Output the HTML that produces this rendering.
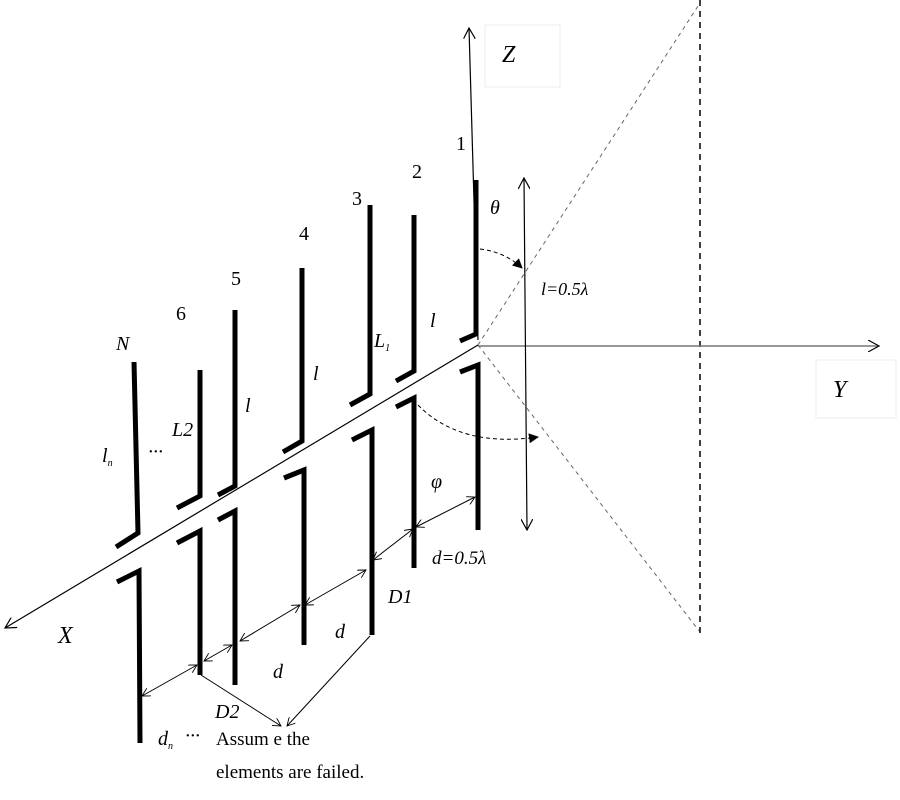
<!DOCTYPE html>
<html><head><meta charset="utf-8"><style>
html,body{margin:0;padding:0;background:#fff;}
svg{display:block;}
text{font-family:"Liberation Serif",serif;fill:#000;}
.it{font-style:italic;}
</style></head><body>
<svg width="900" height="800" viewBox="0 0 900 800" xmlns="http://www.w3.org/2000/svg">
<defs>
<marker id="a" viewBox="0 0 12 12" refX="11" refY="6" markerWidth="12" markerHeight="12" orient="auto-start-reverse" markerUnits="userSpaceOnUse">
<path d="M0,0 L11,6 L0,12" fill="none" stroke="#000" stroke-width="1.2"/></marker>
<marker id="s" viewBox="0 0 10 10" refX="9" refY="5" markerWidth="9" markerHeight="9" orient="auto-start-reverse" markerUnits="userSpaceOnUse">
<path d="M0,0 L9,5 L0,10" fill="none" stroke="#000" stroke-width="1"/></marker>
<marker id="f" viewBox="0 0 10 10" refX="9" refY="5" markerWidth="10" markerHeight="10" orient="auto" markerUnits="userSpaceOnUse">
<path d="M0,0 L10,5 L0,10 Z" fill="#000"/></marker>
</defs>
<rect x="485" y="25" width="75" height="62" fill="none" stroke="#eee"/>
<rect x="816" y="360" width="80" height="58" fill="none" stroke="#eee"/>
<g stroke="#666" stroke-width="1" stroke-dasharray="4,4" fill="none">
<line x1="478" y1="345" x2="700" y2="3"/>
<line x1="478" y1="345" x2="700" y2="632"/>
</g>
<line x1="700" y1="0" x2="700" y2="634" stroke="#000" stroke-width="1.5" stroke-dasharray="6,5"/>
<line x1="478" y1="340" x2="469" y2="28" stroke="#000" stroke-width="1.2" marker-end="url(#a)"/>
<line x1="478" y1="346" x2="879" y2="346" stroke="#777" stroke-width="1.5" marker-end="url(#a)"/>
<line x1="478" y1="345" x2="5" y2="628" stroke="#000" stroke-width="1.2" marker-end="url(#a)"/>
<line x1="527" y1="530" x2="524" y2="178" stroke="#000" stroke-width="1.2" marker-end="url(#a)" marker-start="url(#a)"/>
<path d="M480,249 Q505,252 522,268" fill="none" stroke="#000" stroke-width="1" stroke-dasharray="4,3" marker-end="url(#f)"/>
<path d="M418,405 Q460,448 538,437" fill="none" stroke="#000" stroke-width="1" stroke-dasharray="4,3" marker-end="url(#f)"/>
<g stroke="#000" stroke-width="5" fill="none" stroke-linecap="butt">
<polyline points="460,341 476,334 476,180"/>
<polyline points="460,372 478,365 478,530"/>
<polyline points="396,381 414,371 414,215"/>
<polyline points="396,407 414,398 414,568"/>
<polyline points="350,405 370,394 370,205"/>
<polyline points="352,440 372,430 372,635"/>
<polyline points="283,452 302,441 302,268"/>
<polyline points="284,478 304,470 304,645"/>
<polyline points="218,495 235,486 235,310"/>
<polyline points="218,520 235,511 235,685"/>
<polyline points="177,508 200,496 200,370"/>
<polyline points="177,543 200,531 200,675"/>
<polyline points="116,547 138,533 134,362"/>
<polyline points="117,582 139,571 140,743"/>
</g>
<g stroke="#000" stroke-width="1" fill="none">
<line x1="416" y1="527" x2="475" y2="497" marker-start="url(#s)" marker-end="url(#s)"/>
<line x1="373" y1="560" x2="413" y2="529" marker-start="url(#s)" marker-end="url(#s)"/>
<line x1="305" y1="605" x2="366" y2="570" marker-start="url(#s)" marker-end="url(#s)"/>
<line x1="240" y1="641" x2="300" y2="605" marker-start="url(#s)" marker-end="url(#s)"/>
<line x1="204" y1="661" x2="232" y2="645" marker-start="url(#s)" marker-end="url(#s)"/>
<line x1="142" y1="696" x2="197" y2="665" marker-start="url(#s)" marker-end="url(#s)"/>
<line x1="201" y1="675" x2="281" y2="726" marker-end="url(#s)"/>
<line x1="370" y1="636" x2="287" y2="726" marker-end="url(#s)"/>
</g>
<g font-size="20">
<text x="456" y="150">1</text>
<text x="412" y="178">2</text>
<text x="352" y="205">3</text>
<text x="299" y="240">4</text>
<text x="231" y="285">5</text>
<text x="176" y="320">6</text>
</g>
<g class="it" font-size="20">
<text x="116" y="350" class="it">N</text>
<text x="502" y="62" class="it" font-size="24">Z</text>
<text x="833" y="397" class="it" font-size="24">Y</text>
<text x="58" y="643" class="it" font-size="24">X</text>
<text x="490" y="214" class="it">θ</text>
<text x="541" y="295" class="it" font-size="18">l=0.5λ</text>
<text x="374" y="347" class="it">L<tspan font-size="10" dy="4">1</tspan></text>
<text x="430" y="327" class="it">l</text>
<text x="313" y="380" class="it">l</text>
<text x="245" y="412" class="it">l</text>
<text x="172" y="436" class="it">L2</text>
<text x="102" y="462" class="it">l<tspan font-size="10" dy="4">n</tspan></text>
<text x="148" y="458" fill="#999">···</text>
<text x="431" y="488" class="it">φ</text>
<text x="432" y="564" class="it" font-size="19">d=0.5λ</text>
<text x="388" y="603" class="it">D1</text>
<text x="335" y="638" class="it">d</text>
<text x="273" y="678" class="it">d</text>
<text x="215" y="718" class="it">D2</text>
<text x="158" y="745" class="it">d<tspan font-size="10" dy="4">n</tspan></text>
<text x="185" y="742" fill="#999">···</text>
</g>
<text x="216" y="745" font-size="19">Assum e the</text>
<text x="216" y="778" font-size="19">elements are failed.</text>
</svg>
</body></html>
